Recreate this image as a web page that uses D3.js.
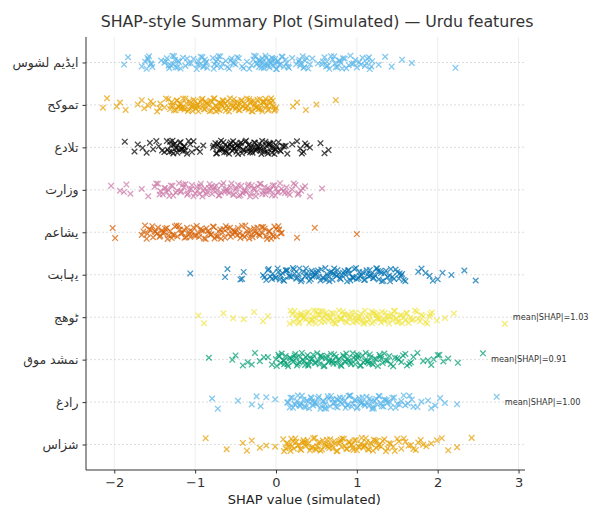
<!DOCTYPE html>
<html><head><meta charset="utf-8">
<script src="https://cdn.jsdelivr.net/npm/d3@7"></script>
<style>body{margin:0;background:#fff;} svg{display:block;}</style>
</head><body>
<svg id="chart" width="592" height="507"></svg>
<script>
// ---------- DATA ----------
const features = ["سوشل میڈیا","حکومت","عدالت","ترازو","معاشی","تباہی","جھوٹ","قوم دشمن","غدار","سازش"];
const xTicks = [-2,-1,0,1,2,3];
const titleText = "SHAP-style Summary Plot (Simulated) — Urdu features";
const xLabel = "SHAP value (simulated)";
const annotRows = [6,7,8];
const annotLabels = ["mean|SHAP|=1.03","mean|SHAP|=0.91","mean|SHAP|=1.00"];

const socialMedia = [-1.88,-1.83,-1.66,-1.62,-1.6,-1.58,-1.57,-1.55,-1.53,-1.42,-1.38,-1.35,-1.32,-1.3,-1.28,-1.27,-1.25,-1.22,-1.2,-1.15,-1.12,-1.08,-1.02,-0.98,-0.96,-0.95,-0.93,-0.9,-0.88,-0.87,-0.85,-0.78,-0.76,-0.74,-0.73,-0.71,-0.68,-0.62,-0.58,-0.55,-0.52,-0.5,-0.48,-0.42,-0.36,-0.33,-0.28,-0.25,-0.23,-0.21,-0.2,-0.19,-0.17,-0.15,-0.14,-0.13,-0.11,-0.09,-0.08,-0.07,-0.05,-0.03,-0.02,-0.01,0.01,0.02,0.04,0.07,0.1,0.12,0.13,0.16,0.2,0.25,0.28,0.3,0.33,0.35,0.36,0.4,0.45,0.52,0.57,0.6,0.62,0.63,0.66,0.7,0.72,0.73,0.76,0.78,0.8,0.83,0.87,0.9,0.92,0.94,0.98,1.0,1.03,1.07,1.1,1.12,1.13,1.16,1.19,1.27,1.35,1.43,1.56,1.68,2.22,
  -1.59,-1.54,-1.36,-1.33,-1.26,-1.24,-1.21,-1.18,-1.1,-1.05,-0.97,-0.91,-0.89,-0.86,-0.77,-0.72,-0.69,-0.66,-0.6,-0.56,-0.53,-0.46,-0.4,-0.3,-0.27,-0.24,-0.22,-0.18,-0.16,-0.12,-0.1,-0.06,-0.04,0.0,0.03,0.05,0.08,0.15,0.29,0.31,0.34,0.38,0.42,0.58,0.64,0.68,0.74,0.79,0.82,0.85,0.96,1.05,1.15,1.18];
const government = [-2.14,-2.09,-1.97,-1.93,-1.86,-1.71,-1.66,-1.63,-1.58,-1.55,-1.47,-1.43,-1.38,-1.33,-1.31,-1.29,-1.27,-1.24,-1.23,-1.21,-1.19,-1.16,-1.15,-1.13,-1.11,-1.09,-1.07,-1.05,-1.04,-1.02,-0.99,-0.97,-0.96,-0.93,-0.91,-0.9,-0.88,-0.86,-0.83,-0.81,-0.8,-0.78,-0.76,-0.73,-0.71,-0.7,-0.68,-0.66,-0.64,-0.61,-0.6,-0.58,-0.55,-0.54,-0.52,-0.5,-0.48,-0.47,-0.45,-0.43,-0.41,-0.39,-0.37,-0.36,-0.34,-0.32,-0.3,-0.28,-0.27,-0.25,-0.23,-0.21,-0.19,-0.17,-0.15,-0.13,-0.11,-0.09,-0.07,-0.05,-0.04,-0.02,0.0,-0.06,0.21,0.26,0.37,0.5,0.74,-1.18,-1.01,-0.87,-0.74,-0.63,-0.49,-0.33,-0.22,-0.14,
  -1.3,-1.26,-1.22,-1.2,-1.17,-1.14,-1.12,-1.08,-1.06,-1.03,-1.0,-0.98,-0.95,-0.92,-0.89,-0.85,-0.82,-0.79,-0.77,-0.75,-0.72,-0.69,-0.67,-0.65,-0.62,-0.59,-0.57,-0.53,-0.51,-0.46,-0.44,-0.42,-0.38,-0.35,-0.31,-0.29,-0.26,-0.24,-0.2,-0.18,-0.16,-0.12,-0.1,-0.08,-0.03,-1.52,-1.44,-1.36,-0.01];
const court = [-1.87,-1.75,-1.71,-1.65,-1.6,-1.56,-1.52,-1.45,-1.41,-1.35,-1.32,-1.3,-1.27,-1.25,-1.23,-1.2,-1.18,-1.15,-1.13,-1.1,-1.06,-1.02,-0.98,-0.94,-0.9,-0.78,-0.75,-0.73,-0.7,-0.68,-0.66,-0.63,-0.61,-0.59,-0.56,-0.54,-0.52,-0.5,-0.47,-0.45,-0.41,-0.38,-0.36,-0.33,-0.31,-0.29,-0.26,-0.24,-0.22,-0.19,-0.17,-0.14,-0.12,-0.1,-0.07,-0.04,0.0,0.03,0.06,0.1,0.14,0.2,0.26,0.3,0.34,0.38,0.42,0.55,0.6,0.65,-1.28,-1.16,-0.72,-0.64,-0.55,-0.43,-0.3,-0.2,-0.09,-0.02,0.08,
  -1.34,-1.31,-1.29,-1.26,-1.24,-1.22,-1.19,-1.17,-1.14,-1.12,-1.08,-1.04,-0.77,-0.74,-0.71,-0.69,-0.67,-0.65,-0.62,-0.6,-0.58,-0.57,-0.53,-0.51,-0.49,-0.48,-0.46,-0.44,-0.42,-0.4,-0.37,-0.35,-0.34,-0.32,-0.28,-0.27,-0.25,-0.23,-0.21,-0.18,-0.16,-0.15,-0.13,-0.11,-0.08,-0.06,-0.05,-0.03,-0.01,0.01,0.05,-1.48,-1.38,0.12,0.32,0.36];
const scales = [-2.04,-1.93,-1.88,-1.85,-1.8,-1.66,-1.58,-1.5,-1.46,-1.43,-1.4,-1.37,-1.33,-1.3,-1.27,-1.24,-1.2,-1.17,-1.14,-1.1,-1.07,-1.04,-1.0,-0.97,-0.94,-0.91,-0.88,-0.85,-0.82,-0.79,-0.76,-0.73,-0.7,-0.67,-0.64,-0.61,-0.58,-0.55,-0.52,-0.49,-0.46,-0.43,-0.4,-0.37,-0.34,-0.31,-0.28,-0.25,-0.22,-0.19,-0.16,-0.13,-0.1,-0.07,-0.04,-0.01,0.02,0.05,0.09,0.13,0.17,0.2,0.24,0.28,0.31,0.36,0.42,0.57,-1.35,-1.12,-0.95,-0.8,-0.62,-0.44,-0.3,-0.12,0.0,0.11,
  -1.48,-1.44,-1.38,-1.32,-1.28,-1.22,-1.18,-1.15,-1.09,-1.05,-1.02,-0.98,-0.93,-0.9,-0.86,-0.83,-0.77,-0.74,-0.71,-0.68,-0.65,-0.6,-0.56,-0.53,-0.5,-0.47,-0.41,-0.38,-0.35,-0.32,-0.27,-0.24,-0.2,-0.17,-0.14,-0.08,-0.05,-0.02,0.03,0.07,0.15,0.22,0.27,0.33];
const economic = [-2.02,-1.99,-1.66,-1.62,-1.59,-1.55,-1.52,-1.49,-1.46,-1.43,-1.4,-1.37,-1.34,-1.31,-1.28,-1.25,-1.22,-1.19,-1.16,-1.13,-1.1,-1.07,-1.04,-1.01,-0.98,-0.95,-0.92,-0.89,-0.86,-0.83,-0.8,-0.77,-0.74,-0.71,-0.68,-0.65,-0.62,-0.59,-0.56,-0.53,-0.5,-0.47,-0.44,-0.41,-0.38,-0.35,-0.32,-0.29,-0.26,-0.23,-0.2,-0.17,-0.14,-0.11,-0.08,-0.05,-0.02,0.01,0.04,0.07,0.26,0.48,1.0,-1.5,-1.33,-1.2,-1.06,-0.9,-0.76,-0.6,-0.45,-0.3,-0.16,-0.03,
  -1.64,-1.6,-1.57,-1.53,-1.47,-1.44,-1.41,-1.38,-1.35,-1.29,-1.26,-1.23,-1.17,-1.14,-1.11,-1.08,-1.02,-0.99,-0.96,-0.93,-0.87,-0.84,-0.81,-0.78,-0.72,-0.69,-0.66,-0.63,-0.57,-0.54,-0.51,-0.48,-0.42,-0.39,-0.36,-0.33,-0.27,-0.24,-0.21,-0.18,-0.12,-0.09,-0.06,0.0,0.03,0.06];
const destruction = [-1.06,-0.63,-0.6,-0.42,-0.4,-0.16,-0.12,-0.1,-0.07,-0.04,-0.01,0.02,0.05,0.08,0.1,0.13,0.16,0.19,0.22,0.25,0.28,0.31,0.34,0.37,0.4,0.43,0.46,0.49,0.52,0.55,0.58,0.61,0.64,0.67,0.7,0.73,0.76,0.79,0.82,0.85,0.88,0.91,0.94,0.97,1.0,1.03,1.06,1.09,1.12,1.15,1.18,1.21,1.24,1.27,1.3,1.33,1.36,1.4,1.44,1.48,1.52,1.56,1.6,1.76,1.8,1.9,2.0,2.06,2.17,2.33,2.47,0.0,0.21,0.36,0.5,0.62,0.77,0.9,1.02,1.17,1.29,1.41,1.53,
  -0.14,-0.09,-0.05,0.03,0.06,0.09,0.14,0.17,0.23,0.26,0.29,0.32,0.38,0.41,0.44,0.47,0.53,0.56,0.59,0.63,0.66,0.69,0.72,0.75,0.8,0.83,0.86,0.89,0.92,0.95,0.99,1.04,1.07,1.1,1.13,1.16,1.2,1.23,1.26,1.31,1.34,1.38,1.42,1.46,1.5,1.55,1.58,0.12,0.45,0.7,0.96,1.25,-0.44,1.85,1.94];
const lie = [-0.96,-0.89,-0.65,-0.53,-0.4,-0.27,-0.16,-0.1,0.17,0.2,0.23,0.26,0.29,0.32,0.35,0.38,0.41,0.44,0.47,0.5,0.53,0.56,0.59,0.62,0.65,0.68,0.71,0.74,0.77,0.8,0.83,0.86,0.89,0.92,0.95,0.98,1.01,1.04,1.07,1.1,1.13,1.16,1.19,1.22,1.25,1.28,1.31,1.34,1.37,1.4,1.43,1.46,1.49,1.52,1.55,1.58,1.61,1.64,1.68,1.72,1.76,1.8,1.85,1.9,1.93,1.99,2.09,2.2,2.83,0.3,0.45,0.58,0.7,0.84,0.97,1.08,1.2,1.33,1.45,1.6,
  0.18,0.22,0.25,0.28,0.31,0.34,0.37,0.4,0.43,0.46,0.49,0.52,0.55,0.57,0.6,0.63,0.66,0.69,0.72,0.75,0.78,0.81,0.85,0.88,0.91,0.94,0.99,1.02,1.05,1.09,1.12,1.15,1.18,1.21,1.24,1.27,1.3,1.35,1.38,1.41,1.44,1.47,1.5,1.53,1.56,1.62,1.66,1.7,1.74,1.78,1.82,1.87,1.91,0.5,0.8,1.0,1.25];
const antiNational = [-0.83,-0.54,-0.5,-0.41,-0.35,-0.26,-0.2,-0.1,-0.05,0.0,0.03,0.06,0.09,0.12,0.15,0.18,0.21,0.24,0.27,0.3,0.33,0.36,0.39,0.42,0.45,0.48,0.51,0.54,0.57,0.6,0.63,0.66,0.69,0.72,0.75,0.78,0.81,0.84,0.87,0.9,0.93,0.96,0.99,1.02,1.05,1.08,1.11,1.14,1.17,1.2,1.24,1.28,1.32,1.36,1.4,1.45,1.5,1.55,1.6,1.65,1.7,1.88,1.92,2.0,2.07,2.13,2.25,2.56,0.1,0.25,0.4,0.55,0.7,0.85,1.0,1.15,1.3,
  0.01,0.04,0.07,0.1,0.14,0.17,0.2,0.23,0.26,0.29,0.32,0.35,0.37,0.4,0.43,0.46,0.49,0.52,0.56,0.59,0.62,0.65,0.68,0.71,0.74,0.77,0.8,0.83,0.86,0.89,0.92,0.95,0.98,1.01,1.04,1.07,1.1,1.13,1.16,1.19,1.22,1.26,1.29,1.34,1.38,1.42,1.47,1.52,1.57,1.62,1.67,1.75,1.82,-0.15,-0.3,1.95,2.02];
const traitor = [-0.79,-0.72,-0.47,-0.3,-0.24,-0.19,-0.01,0.14,0.17,0.2,0.23,0.26,0.29,0.32,0.35,0.38,0.41,0.44,0.47,0.5,0.53,0.56,0.59,0.62,0.65,0.68,0.71,0.74,0.77,0.8,0.83,0.86,0.89,0.92,0.95,0.98,1.01,1.04,1.07,1.1,1.13,1.16,1.19,1.22,1.25,1.28,1.31,1.34,1.38,1.42,1.46,1.5,1.55,1.6,1.65,1.7,1.88,1.92,2.03,2.09,2.24,2.73,0.3,0.45,0.6,0.75,0.9,1.05,1.2,1.35,
  0.15,0.18,0.21,0.24,0.27,0.31,0.34,0.37,0.4,0.43,0.46,0.49,0.52,0.55,0.58,0.61,0.64,0.67,0.7,0.73,0.76,0.79,0.82,0.85,0.88,0.91,0.94,0.97,1.0,1.03,1.06,1.09,1.12,1.15,1.18,1.21,1.24,1.27,1.3,1.33,1.37,1.41,1.44,1.48,1.53,1.58,1.63,1.68,1.75,1.8,-0.12,1.97];
const conspiracy = [-0.87,-0.61,-0.41,-0.36,-0.3,-0.12,-0.01,0.09,0.12,0.15,0.18,0.21,0.24,0.27,0.3,0.33,0.36,0.39,0.42,0.45,0.48,0.51,0.54,0.57,0.6,0.63,0.66,0.69,0.72,0.75,0.78,0.81,0.84,0.87,0.9,0.93,0.96,0.99,1.02,1.05,1.08,1.11,1.14,1.17,1.2,1.23,1.26,1.3,1.34,1.38,1.42,1.47,1.52,1.58,1.64,1.7,1.76,1.82,1.99,2.13,2.24,2.42,0.2,0.35,0.5,0.65,0.8,0.95,1.1,1.25,
  0.1,0.13,0.16,0.19,0.22,0.25,0.28,0.31,0.34,0.37,0.4,0.43,0.46,0.49,0.52,0.55,0.58,0.61,0.64,0.67,0.7,0.73,0.76,0.79,0.82,0.85,0.88,0.91,0.94,0.97,1.0,1.03,1.06,1.09,1.12,1.15,1.18,1.21,1.24,1.28,1.32,1.36,1.4,1.45,1.5,1.55,1.6,1.67,1.73,1.79,1.86,1.92,-0.2,2.05];

const rowValues = [socialMedia, government, court, scales, economic, destruction, lie, antiNational, traitor, conspiracy];
const colors = ["#56B4E9","#E69F00","#000000","#CC79A7","#D55E00","#0072B2","#F0E442","#009E73","#56B4E9","#E69F00"];

// ---------- STYLE / LAYOUT ----------
const jitterPattern = [0.31,-0.77,0.58,-0.12,0.94,-0.45,-0.9,0.17,0.66,-0.28,0.03,-0.62,0.85,0.4,-0.98,0.22,-0.36,0.73,-0.05,-0.7,0.5,0.12,-0.53,0.97,-0.19,0.35,-0.84,0.61,-0.41,0.08,0.79,-0.66,0.26,-0.15,0.47,-0.93,0.69,-0.24,0.9,-0.58,0.14];
const jitterPx = 6.8;
const font = "'DejaVu Sans', sans-serif";

const svg = d3.select("#chart");
const x = d3.scaleLinear().domain([-2.35, 3.08]).range([86, 525]);
const y = d3.scaleLinear().domain([-0.6, 9.6]).range([37, 470]);

// grid
const g = svg.append("g");
g.selectAll(".vgrid").data(xTicks).join("line")
  .attr("x1", d => x(d)).attr("x2", d => x(d))
  .attr("y1", y(-0.6)).attr("y2", y(9.6))
  .attr("stroke", "#e8e8e8").attr("stroke-width", 0.8);
g.selectAll(".hgrid").data(features).join("line")
  .attr("x1", x(-2.35)).attr("x2", x(3.08))
  .attr("y1", (d,i) => y(i)).attr("y2", (d,i) => y(i))
  .attr("stroke", "#d4d4d4").attr("stroke-width", 0.8).attr("stroke-dasharray", "2,2");

// points
rowValues.forEach((vals, r) => {
  const pts = vals.map((v, i) => ({v, j: jitterPattern[(i + r * 13) % jitterPattern.length]}));
  svg.append("g").selectAll("path").data(pts).join("path")
    .attr("transform", d => `translate(${x(d.v)},${y(r) + d.j * jitterPx})`)
    .attr("d", "M-2.8,-2.8L2.8,2.8M-2.8,2.8L2.8,-2.8")
    .attr("stroke", colors[r]).attr("stroke-width", 1.3).attr("fill", "none")
    .attr("opacity", 0.72);
});

// annotations
annotRows.forEach((r, k) => {
  const mx = d3.max(rowValues[r]);
  svg.append("text").attr("x", x(mx + 0.1)).attr("y", y(r)).attr("dy", "0.35em")
    .attr("font-family", font).attr("font-size", 8.2).attr("fill", "#333")
    .text(annotLabels[k]);
});

// axes
const xAxis = d3.axisBottom(x).tickValues(xTicks).tickSize(3.5).tickPadding(4)
  .tickFormat(d => d < 0 ? "\u2212" + Math.abs(d) : d);
const xg = svg.append("g").attr("transform", `translate(0,${y(9.6)})`).call(xAxis);
xg.select(".domain").attr("stroke", "#333").attr("d", `M${x(-2.35)},0H${x(3.08)}`);
xg.selectAll(".tick line").attr("stroke", "#333");
xg.selectAll("text").attr("font-family", font).attr("font-size", 13).attr("fill", "#333");

const yAxis = d3.axisLeft(y).tickValues(d3.range(features.length)).tickSize(3.5).tickPadding(4)
  .tickFormat(i => features[i]);
const yg = svg.append("g").attr("transform", `translate(${x(-2.35)},0)`).call(yAxis);
yg.select(".domain").attr("stroke", "#333").attr("d", `M0,${y(-0.6)}V${y(9.6)}`);
yg.selectAll(".tick line").attr("stroke", "#333");
yg.selectAll("text").attr("font-family", font).attr("font-size", 12.5).attr("fill", "#333")
  .style("direction", "ltr").style("unicode-bidi", "bidi-override");

// title and label
svg.append("text").attr("x", 317).attr("y", 27).attr("text-anchor", "middle")
  .attr("font-family", font).attr("font-size", 15.8).attr("fill", "#333").text(titleText);
svg.append("text").attr("x", x(0.35)).attr("y", 504).attr("text-anchor", "middle")
  .attr("font-family", font).attr("font-size", 13).attr("fill", "#222").text(xLabel);
</script>
</body></html>
